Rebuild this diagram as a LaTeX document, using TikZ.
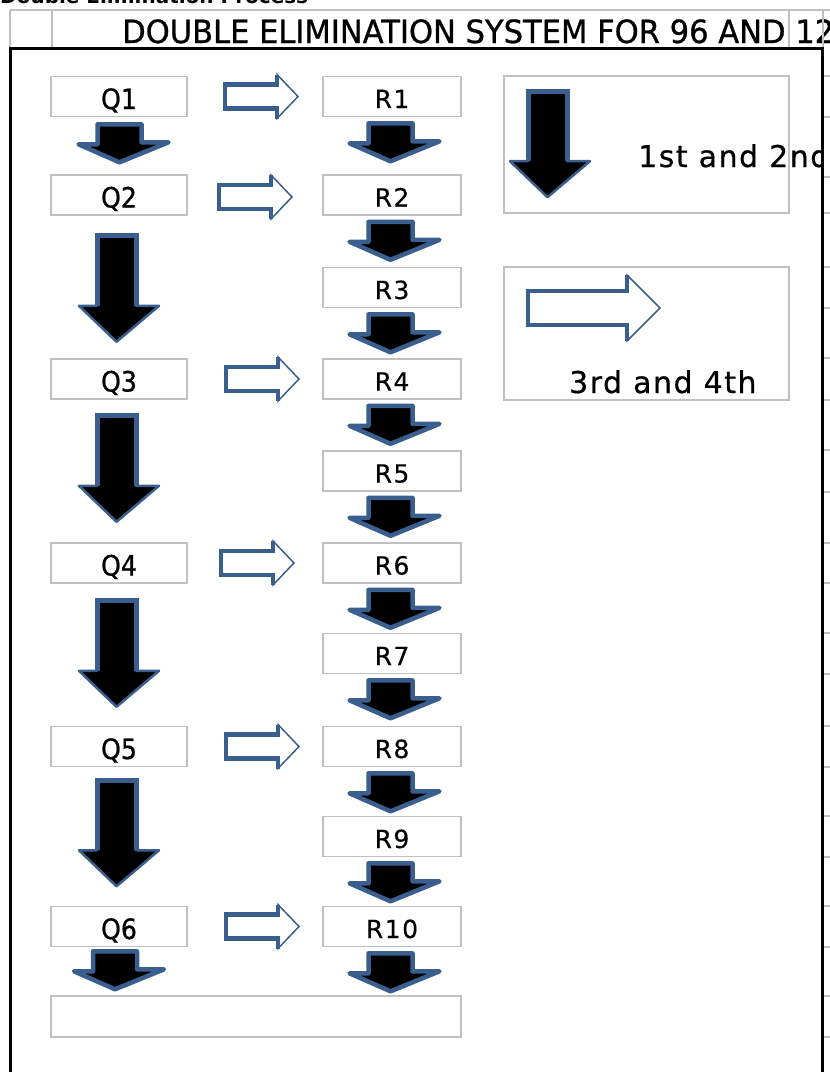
\documentclass[tikz,border=0pt]{standalone}
\usepackage{fontspec}
\setmainfont{DejaVu Sans}
\newfontfamily\qfont[FakeStretch=0.9,FakeBold=0.8]{DejaVu Sans}
\newfontfamily\hfont[FakeStretch=0.955,FakeBold=0.8]{DejaVu Sans}
\newfontfamily\rfont[LetterSpace=6,FakeBold=0.3]{DejaVu Sans}
\newfontfamily\tfont[LetterSpace=5,FakeBold=0.6]{DejaVu Sans}
\usetikzlibrary{calc}
\definecolor{arrowblue}{RGB}{58,95,143}
\definecolor{cellgrey}{RGB}{192,192,192}
\tikzset{
  cell/.style={draw=cellgrey, line width=1.6pt, inner sep=0pt},
  qbox/.style={cell, minimum width=136pt, minimum height=40pt,
    font=\qfont\fontsize{28}{28}\selectfont, text height=25pt, text depth=0pt},
  rbox/.style={cell, minimum width=138pt, minimum height=40pt,
    font=\rfont\fontsize{25}{25}\selectfont, text height=23pt, text depth=0pt},
  infotext/.style={inner sep=0pt, font=\tfont\fontsize{30}{30}\selectfont},
  hollow/.style={draw=arrowblue, fill=white, line width=1.5pt, line join=miter},
  hollowrim/.style={draw=arrowblue, line width=4.5pt, line join=miter, line cap=butt},
  blackfill/.style={draw=arrowblue, fill=black, line width=2.5pt, line join=round},
  blackrim/.style={draw=arrowblue, line width=5pt, line join=miter, line cap=butt},
  gridline/.style={draw=cellgrey, line width=1.2pt},
  pics/smallright/.style={code={
    \path[hollow] (-36,-12) -- (16,-12) -- (16,-22) -- (37,0) -- (16,22) -- (16,12) -- (-36,12) -- cycle;
    \draw[hollowrim] (16,-22) -- (16,-12) -- (-36,-12) -- (-36,12) -- (16,12) -- (16,22);
  }},
  pics/bigright/.style={code={
    \path[hollow] (-66,-17) -- (33,-17) -- (33,-33) -- (66,0) -- (33,33) -- (33,17) -- (-66,17) -- cycle;
    \draw[hollowrim] (33,-33) -- (33,-17) -- (-66,-17) -- (-66,17) -- (33,17) -- (33,33);
  }},
  pics/smalldown/.style={code={
    \path[blackfill, line width=4.5pt] (-22,0) -- (22,0) -- (22,18) -- (49,18) -- (0,38) -- (-41,20) -- (-22,20) -- cycle;
  }},
  pics/bigdown/.style={code={
    \path[blackfill] (-19.5,0) -- (19.5,0) -- (19.5,70) -- (42.5,70) -- (0,106) -- (-37.5,70) -- (-19.5,70) -- cycle;
    \draw[blackrim] (-19.5,70) -- (-19.5,0) -- (19.5,0) -- (19.5,70);
  }},
}
\begin{document}
\begin{tikzpicture}[x=1pt,y=-1pt]
\useasboundingbox (0,0) rectangle (830,1072);
\begin{scope}
\clip (0,0) rectangle (830,1072);
% cut-off title above the sheet
\node[anchor=base west, inner sep=0pt, font=\bfseries\fontsize{20}{20}\selectfont] (title) at (0,3.5) {Double Elimination Process};
% header row
\node[anchor=base west, inner sep=0pt, font=\hfont\fontsize{32}{32}\selectfont] (header) at (122,43) {DOUBLE ELIMINATION SYSTEM FOR 96 AND 12};
\draw[gridline] (10,10) -- (830,10);
\foreach \gx in {10,52,789,823} \draw[gridline] (\gx,10) -- (\gx,48);
\foreach \gy in {76,117,177,213,267,308,358,400,450,492,543,583,633,674,726,767,816,857,906,947,996,1037}
  \draw[gridline] (824,\gy) -- (830,\gy);
% frame
\draw[line width=3pt] (10.5,1080) -- (10.5,48) -- (822.5,48) -- (822.5,1080);
\end{scope}

% Q column
\node[qbox] (q1) at (119,96.5) {Q1};
\node[qbox] (q2) at (119,195) {Q2};
\node[qbox] (q3) at (119,379) {Q3};
\node[qbox] (q4) at (119,563) {Q4};
\node[qbox] (q5) at (119,746.5) {Q5};
\node[qbox] (q6) at (119,926.5) {Q6};
% R column
\node[rbox] (r1) at (392,96.5) {R1};
\node[rbox] (r2) at (392,195) {R2};
\node[rbox] (r3) at (392,287.5) {R3};
\node[rbox] (r4) at (392,379) {R4};
\node[rbox] (r5) at (392,471) {R5};
\node[rbox] (r6) at (392,563) {R6};
\node[rbox] (r7) at (392,653.5) {R7};
\node[rbox] (r8) at (392,746.5) {R8};
\node[rbox] (r9) at (392,836.5) {R9};
\node[rbox] (r10) at (392,926.5) {R10};
% final box
\node[cell, minimum width=410pt, minimum height=41pt] (final) at (256,1016.5) {};
% legend boxes
\node[cell, minimum width=285pt, minimum height=137pt] (boxa) at (646.5,144.5) {};
\node[cell, minimum width=285pt, minimum height=133pt] (boxb) at (646.5,333.5) {};
\begin{scope}
\clip (0,0) rectangle (821,1072);
\node[infotext, anchor=base west] (t12) at (638,167) {1st and 2nd};
\end{scope}
\node[infotext, anchor=base west] (t34) at (569,393) {3rd and 4th};
\pic at ($(boxa.north)+(-99,16)$) {bigdown};
\pic at ($(boxb.center)+(-52.5,-25.5)$) {bigright};

% right arrows Q -> R
\pic at ($(q1.east)!0.5!(r1.west)+(6,0)$) {smallright};
\pic at ($(q2.east)!0.5!(r2.west)+(0,2)$) {smallright};
\pic at ($(q3.east)!0.5!(r4.west)+(7,0)$) {smallright};
\pic at ($(q4.east)!0.5!(r6.west)+(2,0)$) {smallright};
\pic at ($(q5.east)!0.5!(r8.west)+(7,0)$) {smallright};
\pic at ($(q6.east)!0.5!(r10.west)+(7,0)$) {smallright};

% small down arrows in R column
\foreach \r in {r1,r2,r3,r4,r5,r6,r7,r8,r9,r10}
  \pic at ($(\r.south)+(-1.5,6)$) {smalldown};
% Q column down arrows
\pic at ($(q1.south)+(0.5,7)$) {smalldown};
\pic at ($(q6.south)+(-4,4)$) {smalldown};
\pic at ($(q2.south)+(-2.5,20)$) {bigdown};
\pic at ($(q3.south)+(-2.5,16)$) {bigdown};
\pic at ($(q4.south)+(-2.5,17)$) {bigdown};
\pic at ($(q5.south)+(-2.5,13)$) {bigdown};
\end{tikzpicture}
\end{document}
